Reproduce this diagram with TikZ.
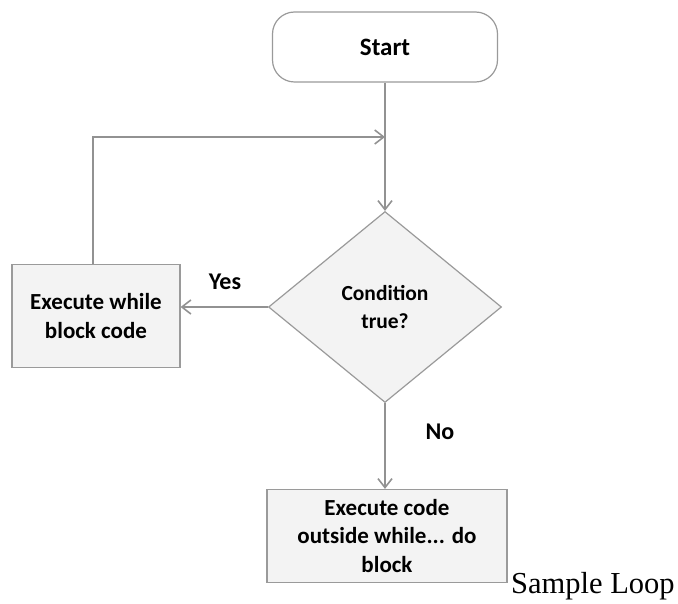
\documentclass[tikz,border=0pt]{standalone}
\usepackage{fontspec}
\setmainfont{Carlito}
\newfontfamily\serifcap{Liberation Serif}
\usetikzlibrary{shapes.geometric,arrows.meta}
\definecolor{linegrey}{HTML}{929292}
\definecolor{boxfill}{HTML}{F3F3F3}
\definecolor{boxline}{HTML}{9A9A9A}
\tikzset{
  procbox/.style={draw=boxline, fill=boxfill, line width=1.2pt, align=center, font=\bfseries\fontsize{23}{28.5}\selectfont, inner sep=0pt},
  flow/.style={draw=linegrey, line width=2.4pt, -{Straight Barb[length=9pt,width=14pt,line width=1.6pt]}},
  lbl/.style={font=\bfseries\fontsize{24}{28}\selectfont}
}
\begin{document}
\begin{tikzpicture}[x=1pt,y=-1pt]
\useasboundingbox (0,0) rectangle (678,604);
\node[procbox, rounded corners=22pt, fill=white, minimum width=225pt, minimum height=70pt, font=\bfseries\fontsize{25}{30}\selectfont] (start) at (385,47) {Start};
\node[procbox, diamond, aspect=1.22, minimum width=233pt, minimum height=191pt, font=\bfseries\fontsize{21.5}{28}\selectfont] (cond) at (385,307) {Condition\\true?};
\node[procbox, minimum width=168pt, minimum height=103pt] (body) at (96,316) {Execute while\\block code};
\node[procbox, minimum width=240pt, minimum height=93pt] (after) at (387,536) {Execute code\\outside while... do\\block};
\coordinate (merge) at (385,137);
\coordinate (loopcorner) at (93,137);
\draw[flow] (start.south) -- (cond.north);
\draw[flow] (body.north -| loopcorner) -- (loopcorner) -- (merge);
\draw[flow] (cond.west) -- (body.east |- cond.west);
\draw[flow] (cond.south) -- (after.north -| cond.south);
\node[lbl] (yes) at (225,282) {Yes};
\node[lbl] (no) at (440,432) {No};
\node[font=\serifcap\fontsize{30.5}{34}\selectfont, anchor=base west, inner sep=0pt] (cap) at (511,593) {Sample Loop};
\end{tikzpicture}
\end{document}
